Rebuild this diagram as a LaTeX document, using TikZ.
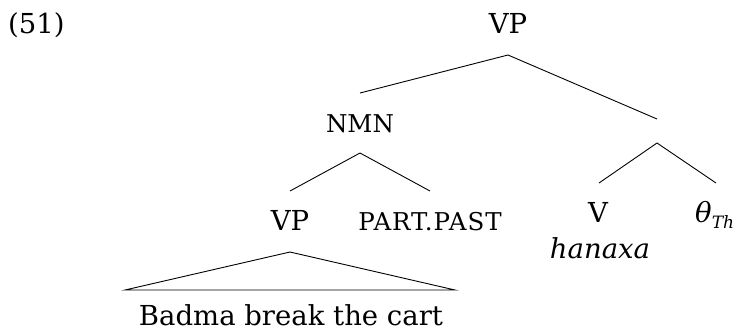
\documentclass[tikz,border=0pt]{standalone}
\usepackage{fontspec}
\setmainfont{DejaVu Serif}
\usetikzlibrary{calc}
\begin{document}
\begin{tikzpicture}[x=1pt,y=-1pt,
  lab/.style={anchor=base,inner sep=0pt,font=\fontsize{27.5pt}{30pt}\selectfont},
  sc/.style={anchor=base,inner sep=0pt,font=\fontsize{24.5pt}{26pt}\selectfont},
  branch/.style={draw=black,line width=0.9pt}]
\useasboundingbox (0,0) rectangle (735,332);
% labels
\node[lab,anchor=base west] (ex) at (8,33) {(51)};
\node[lab] (vp1) at (508,33) {VP};
\node[sc] (nmn) at (360,132) {NMN};
\node[lab] (vp2) at (290,230) {VP};
\node[sc] (part) at (430,230) {\addfontfeature{LetterSpace=4}PART.PAST};
\node[lab] (v) at (598,222) {V};
\node[lab] (hanaxa) at (600,258) {\itshape hanaxa};
\node[lab,anchor=base west] (theta) at (695,222) {\itshape θ\raisebox{-0.22em}{\fontsize{17pt}{18pt}\selectfont\itshape Th}};
\node[lab] (badma) at (291,325) {Badma break the cart};
\node[inner sep=0pt,minimum size=0pt] (e) at (657,131) {};
% junction points
\coordinate (vp1-s) at ($(vp1.base)+(0,22)$);
\coordinate (nmn-n) at ($(nmn.base)+(0,-39)$);
\coordinate (nmn-s) at ($(nmn.base)+(0,21)$);
\coordinate (e-n) at ($(e)+(0,-12)$);
\coordinate (e-s) at ($(e)+(0,12)$);
\coordinate (vp2-n) at ($(vp2.base)+(0,-39)$);
\coordinate (part-n) at ($(part.base)+(0,-39)$);
\coordinate (vp2-s) at ($(vp2.base)+(0,22)$);
\coordinate (v-n) at ($(v.base)+(1,-39)$);
\coordinate (theta-n) at ($(theta.base west)+(21,-39)$);
\coordinate (tri-l) at ($(badma.base)+(-166,-35)$);
\coordinate (tri-r) at ($(badma.base)+(164,-35)$);
% branches
\draw[branch] (vp1-s) -- (nmn-n);
\draw[branch] (vp1-s) -- (e-n);
\draw[branch] (nmn-s) -- (vp2-n);
\draw[branch] (nmn-s) -- (part-n);
\draw[branch] (e-s) -- (v-n);
\draw[branch] (e-s) -- (theta-n);
\draw[branch,line join=miter] (tri-l) -- (vp2-s) -- (tri-r) -- cycle;
\end{tikzpicture}
\end{document}
